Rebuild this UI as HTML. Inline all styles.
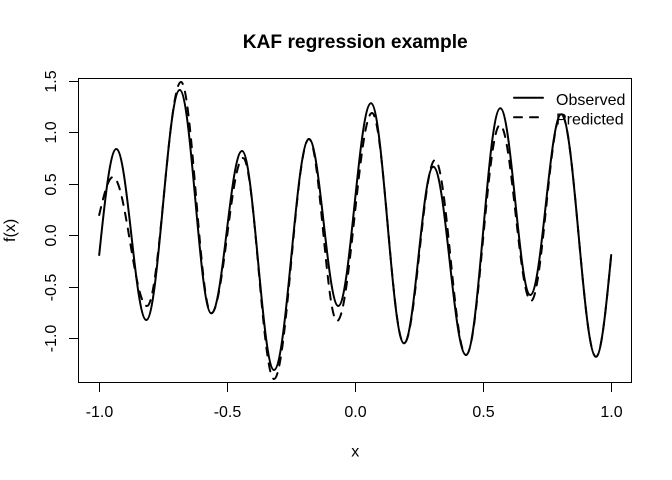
<!DOCTYPE html>
<html>
<head>
<meta charset="utf-8">
<style>
  html, body { margin: 0; padding: 0; background: #ffffff; }
  svg { display: block; }
  text { font-family: "Liberation Sans", Arial, sans-serif; fill: #000; }
</style>
</head>
<body>
<svg width="672" height="480" viewBox="0 0 672 480" xmlns="http://www.w3.org/2000/svg">
  <rect x="0" y="0" width="672" height="480" fill="#ffffff"/>

  <!-- Title -->
  <text x="355.2" y="48" font-size="19.2" font-weight="bold" text-anchor="middle">KAF regression example</text>

  <!-- Plot box -->
  <rect x="78.5" y="78.5" width="553" height="304" fill="none" stroke="#000" stroke-width="1"/>

  <!-- X axis ticks -->
  <g stroke="#000" stroke-width="1">
    <line x1="99.5" y1="382.5" x2="611.5" y2="382.5"/>
    <line x1="99.5" y1="382.5" x2="99.5" y2="392"/>
    <line x1="227.5" y1="382.5" x2="227.5" y2="392"/>
    <line x1="355.5" y1="382.5" x2="355.5" y2="392"/>
    <line x1="483.5" y1="382.5" x2="483.5" y2="392"/>
    <line x1="611.5" y1="382.5" x2="611.5" y2="392"/>
  </g>
  <g font-size="16" text-anchor="middle">
    <text x="99.5" y="417">-1.0</text>
    <text x="227.5" y="417">-0.5</text>
    <text x="355.5" y="417">0.0</text>
    <text x="483.5" y="417">0.5</text>
    <text x="611.5" y="417">1.0</text>
  </g>

  <!-- Y axis ticks -->
  <g stroke="#000" stroke-width="1">
    <line x1="78.5" y1="81.5" x2="78.5" y2="338.5"/>
    <line x1="78.5" y1="81.5" x2="69" y2="81.5"/>
    <line x1="78.5" y1="132.5" x2="69" y2="132.5"/>
    <line x1="78.5" y1="184.5" x2="69" y2="184.5"/>
    <line x1="78.5" y1="235.5" x2="69" y2="235.5"/>
    <line x1="78.5" y1="287.5" x2="69" y2="287.5"/>
    <line x1="78.5" y1="338.5" x2="69" y2="338.5"/>
  </g>
  <g font-size="16" text-anchor="middle">
    <text transform="translate(56,81.5) rotate(-90)">1.5</text>
    <text transform="translate(56,132.5) rotate(-90)">1.0</text>
    <text transform="translate(56,184.5) rotate(-90)">0.5</text>
    <text transform="translate(56,235.5) rotate(-90)">0.0</text>
    <text transform="translate(56,287.5) rotate(-90)">-0.5</text>
    <text transform="translate(56,338.5) rotate(-90)">-1.0</text>
  </g>

  <!-- Axis titles -->
  <text x="355.2" y="456.5" font-size="16" text-anchor="middle">x</text>
  <text transform="translate(15,230.4) rotate(-90)" font-size="16" text-anchor="middle">f(x)</text>

  <!-- Observed (solid) -->
  <path fill="none" stroke="#000" stroke-width="2" stroke-linejoin="round" stroke-linecap="round"
    d="M 99.2 255
       C 104.8 200.7, 110.3 149, 116.3 149
       C 127.2 149, 135.4 320, 146.3 320
       C 158.4 320, 167.6 90, 179.7 90
       C 191.2 90, 199.8 313.3, 211.3 313.3
       C 222.5 313.3, 230.8 151, 242 151
       C 253.6 151, 262.4 370, 274 370
       C 286.7 370, 296.3 139, 309 139
       C 319.6 139, 327.7 306, 338.3 306
       C 349.9 306, 359.1 103.3, 371 103.3
       C 383 103.3, 392 343.3, 404 343.3
       C 414.6 343.3, 422.7 166.7, 433.3 166.7
       C 445.2 166.7, 454.1 355, 466 355
       C 478.5 355, 487.8 108.3, 500.3 108.3
       C 511.2 108.3, 519.4 295, 530.3 295
       C 541.6 295, 550 114.3, 561.3 114.3
       C 573.9 114.3, 583.4 356.7, 596 356.7
       C 601.3 356.7, 606.2 307.1, 611.2 255"/>

  <!-- Predicted (dashed) -->
  <path fill="none" stroke="#000" stroke-width="2" stroke-dasharray="8 8" stroke-linejoin="round" stroke-linecap="round"
    d="M 99.2 215
       C 103.7 195.5, 108.2 177, 113 177
       C 125.4 177, 134.6 306, 147 306
       C 159.4 306, 168.6 82, 181 82
       C 192 82, 200.3 313.3, 211.3 313.3
       C 222.8 313.3, 231.5 158, 243 158
       C 254.3 158, 262.7 379, 274 379
       C 286.7 379, 296.3 139, 309 139
       C 319.2 139, 326.8 321, 337 321
       C 349.7 321, 359.3 113, 372 113
       C 383.6 113, 392.4 343.3, 404 343.3
       C 415.3 343.3, 423.7 160, 435 160
       C 446.3 160, 454.7 355, 466 355
       C 478.4 355, 487.6 125, 500 125
       C 511.3 125, 519.7 301, 531 301
       C 542 301, 550.3 114.3, 561.3 114.3
       C 573.9 114.3, 583.4 356.7, 596 356.7
       C 601.3 356.7, 606.2 307.1, 611.2 255"/>

  <!-- Legend -->
  <line x1="514" y1="97.7" x2="543" y2="97.7" stroke="#000" stroke-width="2" stroke-linecap="round"/>
  <line x1="514" y1="117.3" x2="543" y2="117.3" stroke="#000" stroke-width="2" stroke-dasharray="8 8" stroke-linecap="round"/>
  <text x="556" y="105" font-size="16">Observed</text>
  <text x="556" y="124.5" font-size="16">Predicted</text>
</svg>
</body>
</html>
